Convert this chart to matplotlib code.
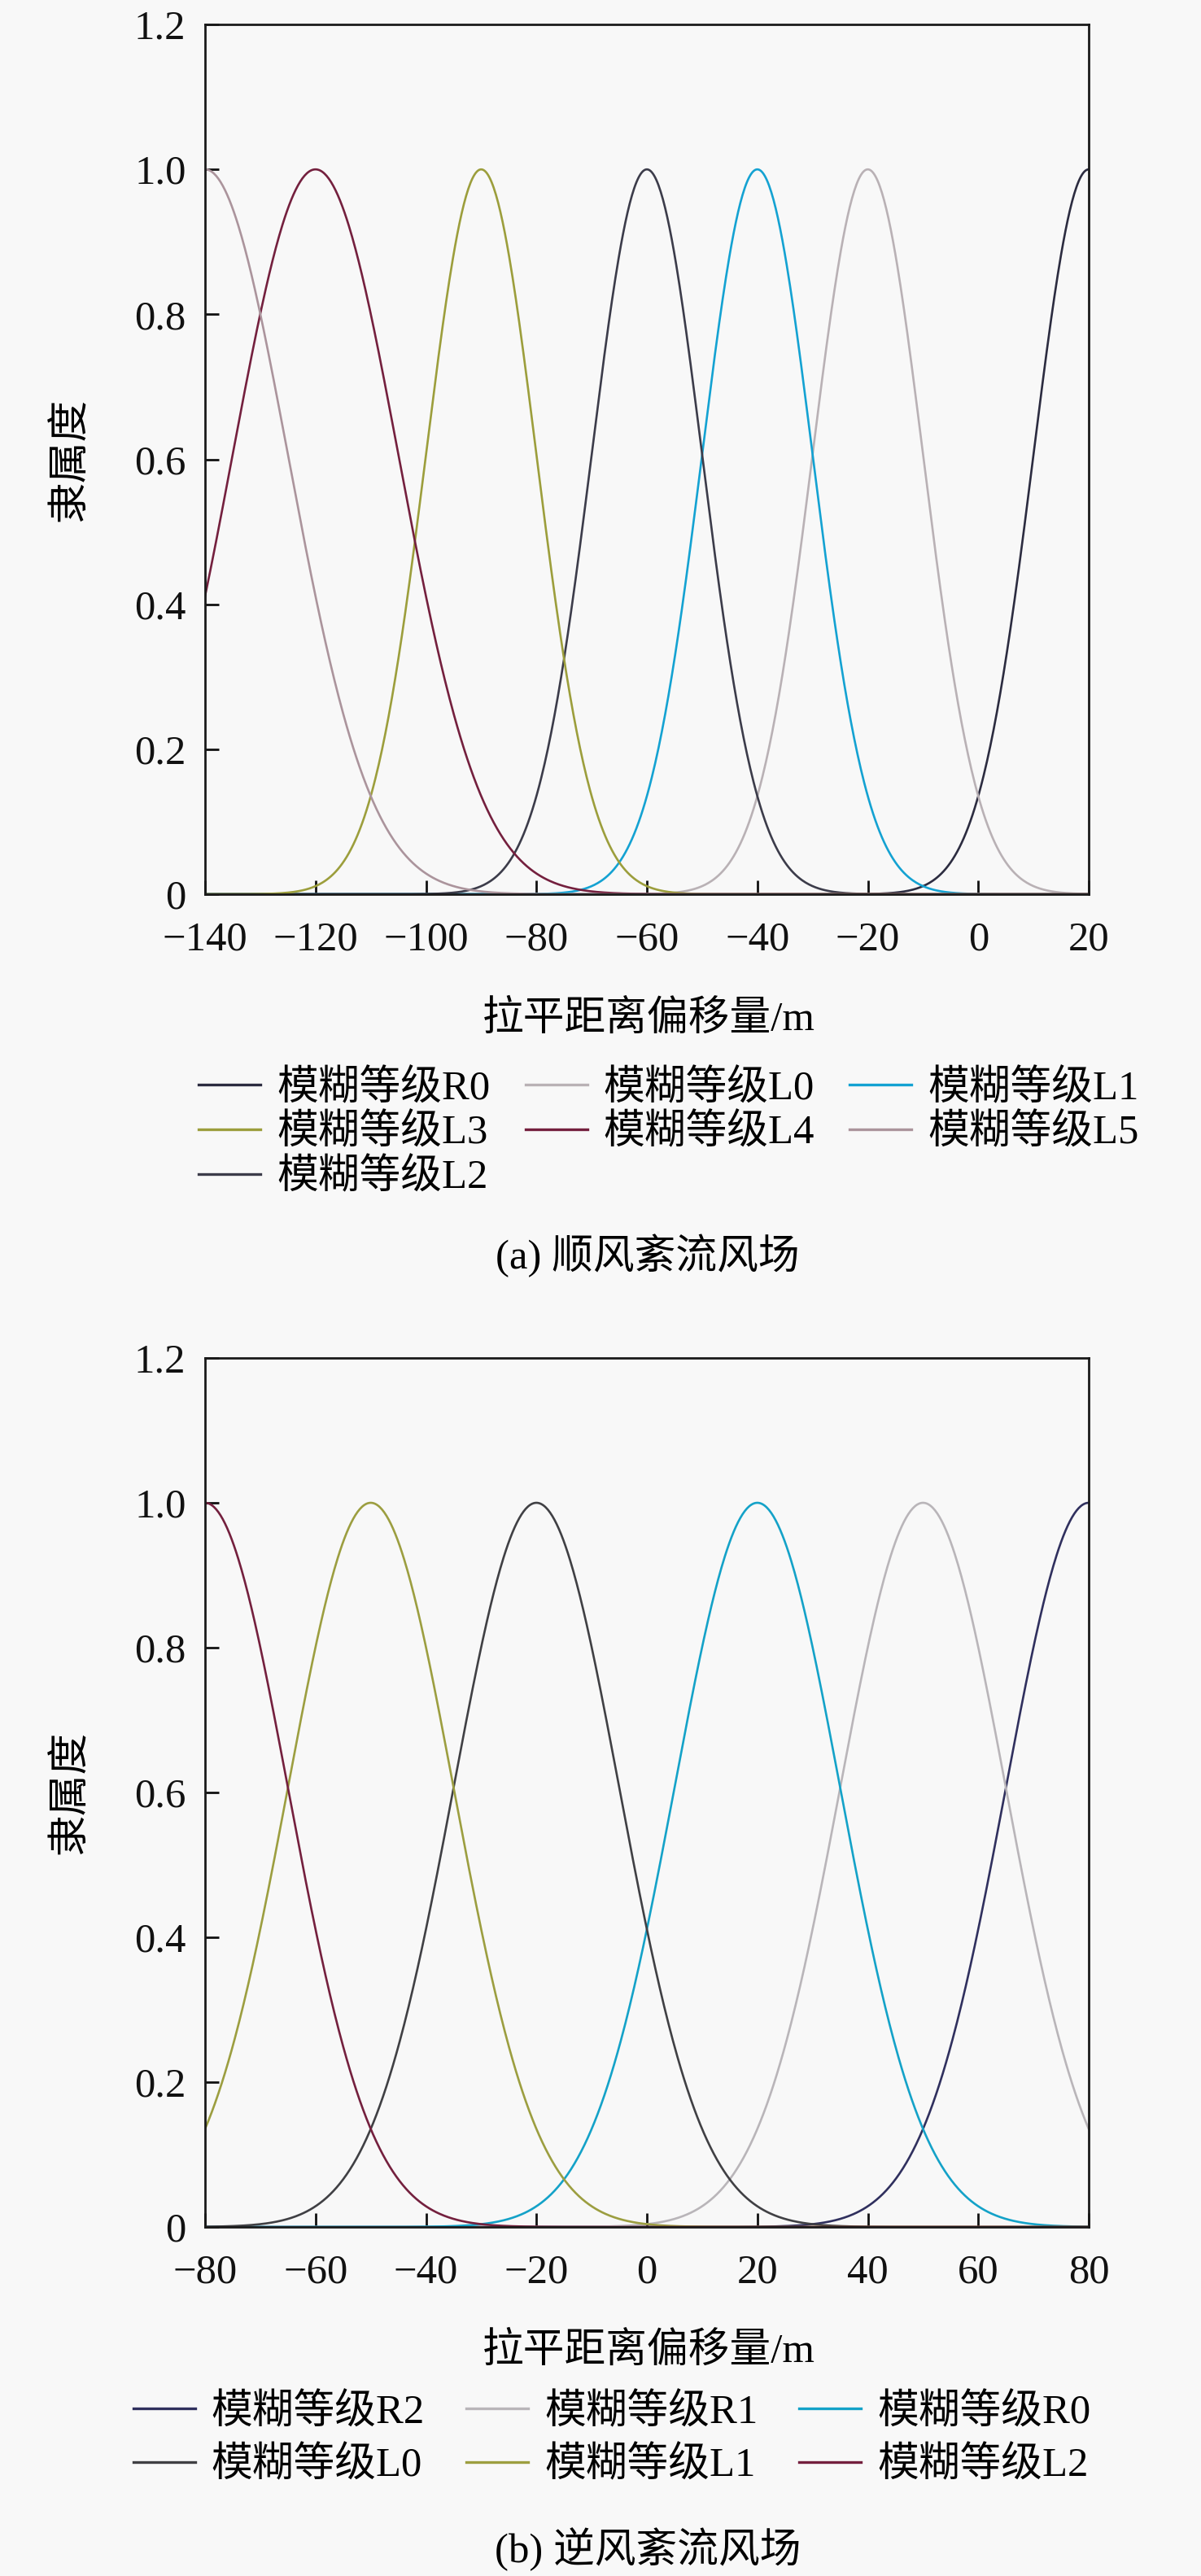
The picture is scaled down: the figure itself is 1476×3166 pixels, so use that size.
import numpy as np
import matplotlib
matplotlib.use("Agg")
from matplotlib import pyplot as plt

plt.rcParams['font.family'] = ['Liberation Serif', 'Noto Sans CJK SC']
plt.rcParams['axes.unicode_minus'] = True

# (a) downwind turbulence: gaussian membership levels, centre and width
labels_a = ["模糊等级R0", "模糊等级L0", "模糊等级L1", "模糊等级L2", "模糊等级L3", "模糊等级L4", "模糊等级L5"]
centers_a = [20, -20, -40, -60, -90, -120, -140]
sigmas_a = [10, 10, 10, 10, 10, 15, 15]
colors_a = ["#2c2c40", "#b9b1b5", "#14a2d2", "#3c3c4a", "#9c9e3c", "#74203e", "#ab949c"]
xticks_a = [-140, -120, -100, -80, -60, -40, -20, 0, 20]
# legend order (column-major so rows read R0 L0 L1 / L3 L4 L5 / L2)
legend_order_a = [0, 4, 3, 1, 5, 2, 6]

# (b) upwind turbulence
labels_b = ["模糊等级R2", "模糊等级R1", "模糊等级R0", "模糊等级L0", "模糊等级L1", "模糊等级L2"]
centers_b = [80, 50, 20, -20, -50, -80]
sigmas_b = [15, 15, 15, 15, 15, 15]
colors_b = ["#30305e", "#b9b5b9", "#14a2c8", "#404044", "#9c9e40", "#74203e"]
xticks_b = [-80, -60, -40, -20, 0, 20, 40, 60, 80]
legend_order_b = [0, 3, 1, 4, 2, 5]

yticks = [0, 0.2, 0.4, 0.6, 0.8, 1.0, 1.2]
ytick_labels = ["0", "0.2", "0.4", "0.6", "0.8", "1.0", "1.2"]

W, H = 1476, 3166
FS = 36.5
bg = "#f8f8f8"

fig = plt.figure(figsize=(W / 100, H / 100), dpi=100, facecolor=bg)


def membership(x, c, s):
    return np.exp(-(x - c) ** 2 / (2.0 * s ** 2))


def panel(top_px, bottom_px, centers, sigmas, colors, labels, xticks, order,
          xlabel_y, legend_y, legend_x, caption, caption_y, labelspacing, colspacing):
    ax = fig.add_axes([252 / W, 1 - bottom_px / H, (1338 - 252) / W, (bottom_px - top_px) / H])
    ax.set_facecolor(bg)
    x = np.linspace(xticks[0], xticks[-1], 800)
    lines = []
    for c, s, col, lab in zip(centers, sigmas, colors, labels):
        ln, = ax.plot(x, membership(x, c, s), color=col, lw=1.9, label=lab)
        lines.append(ln)
    ax.set_xlim(xticks[0], xticks[-1])
    ax.set_ylim(0, 1.2)
    ax.set_xticks(xticks)
    ax.set_xticklabels([str(t).replace("-", "\u2212") for t in xticks])
    ax.set_yticks(yticks)
    ax.set_yticklabels(ytick_labels)
    ax.tick_params(direction='in', length=12, width=2, labelsize=FS, colors='#111111')
    ax.tick_params(axis='x', pad=24)
    ax.tick_params(axis='y', pad=17)
    for sp in ax.spines.values():
        sp.set_linewidth(2.0)
        sp.set_color('#1a1a1a')

    ax.set_ylabel("隶属度", fontsize=FS)
    ax.yaxis.set_label_coords((111 - 252) / (1338 - 252), 0.5)

    fig.text(797 / W, 1 - xlabel_y / H, "拉平距离偏移量/m", fontsize=FS, ha='center', va='center')
    leg = fig.legend([lines[i] for i in order], [labels[i] for i in order],
                     loc='center', bbox_to_anchor=(legend_x / W, 1 - legend_y / H),
                     ncol=3, frameon=False, fontsize=FS, handlelength=1.5,
                     handletextpad=0.4, columnspacing=colspacing, labelspacing=labelspacing,
                     borderpad=0)
    for h in leg.legend_handles:
        h.set_linewidth(2.4)
    fig.text(796 / W, 1 - caption_y / H, caption, fontsize=FS, ha='center', va='center')
    return ax


panel(30, 1099, centers_a, sigmas_a, colors_a, labels_a, xticks_a, legend_order_a,
      1253, 1393, 822, "(a) 顺风紊流风场", 1543, 0.14, 0.85)
panel(1669, 2737, centers_b, sigmas_b, colors_b, labels_b, xticks_b, legend_order_b,
      2890, 2998, 752, "(b) 逆风紊流风场", 3133, 0.36, 1.0)

fig.savefig("out.png", dpi=100, facecolor=bg)
